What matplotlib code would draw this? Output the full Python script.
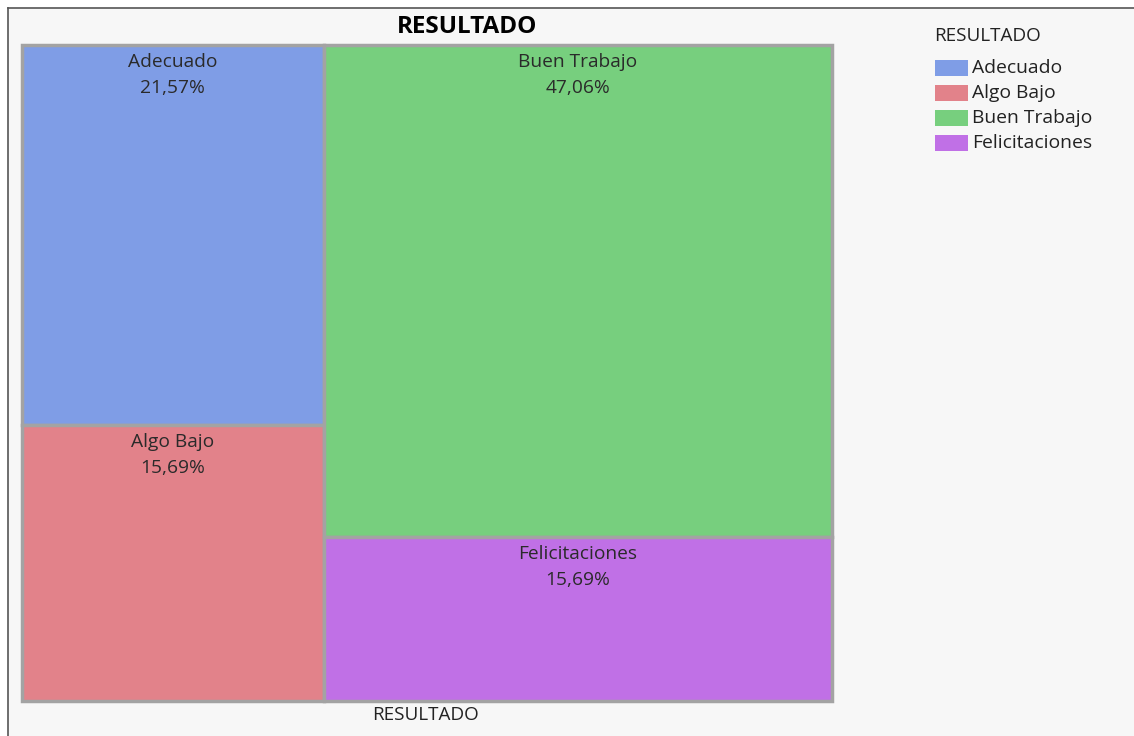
import matplotlib.pyplot as plt
from matplotlib.patches import Rectangle

plt.rcParams['font.family'] = ['Open Sans', 'Noto Sans', 'DejaVu Sans']

# datos del treemap
categorias = ['Adecuado', 'Algo Bajo', 'Buen Trabajo', 'Felicitaciones']
conteos = [11, 8, 24, 8]
colores = ['#7f9de6', '#e2828a', '#77cf7e', '#c070e6']
# columnas del treemap (indices de categorias)
columnas = [[0, 1], [2, 3]]

total = sum(conteos)

fig = plt.figure(figsize=(11.34, 7.36), dpi=100)
fig.patch.set_facecolor('white')

# marco gris claro con borde izquierdo/superior
fig.patches.append(Rectangle((8 / 1134, 0), 1.2, 1 - 8 / 736, transform=fig.transFigure,
                             facecolor='#f7f7f7', edgecolor='none', zorder=-5))
fig.lines.append(plt.Line2D([8 / 1134, 8 / 1134], [0, 1 - 8 / 736], transform=fig.transFigure,
                            color='#555555', linewidth=1.2, zorder=-4))
fig.lines.append(plt.Line2D([8 / 1134, 1], [1 - 8 / 736, 1 - 8 / 736], transform=fig.transFigure,
                            color='#555555', linewidth=1.2, zorder=-4))

ax = fig.add_axes([22 / 1134, 1 - 701 / 736, 810 / 1134, 656 / 736])
ax.set_zorder(2)
ax.set_xlim(0, 1)
ax.set_ylim(0, 1)
ax.axis('off')

x0 = 0.0
for col in columnas:
    suma_col = sum(conteos[i] for i in col)
    ancho = suma_col / total
    y_top = 1.0
    for i in col:
        alto = conteos[i] / suma_col
        ax.add_patch(Rectangle((x0, y_top - alto), ancho, alto, facecolor=colores[i],
                               edgecolor='#a3a3a3', linewidth=2.5, clip_on=False))
        pct = f'{100 * conteos[i] / total:.2f}'.replace('.', ',') + '%'
        ax.text(x0 + ancho / 2, y_top - 0.026, categorias[i], ha='center', va='center',
                fontsize=13.8, color='#2a2a2a')
        ax.text(x0 + ancho / 2, y_top - 0.066, pct, ha='center', va='center',
                fontsize=13.8, color='#2a2a2a')
        y_top -= alto
    x0 += ancho

fig.text(467 / 1134, 1 - 27 / 736, 'RESULTADO', ha='center', va='center',
         fontsize=17.5, fontweight='bold', color='black')
fig.text(425 / 1134, 1 - 715 / 736, 'RESULTADO', ha='center', va='center',
         fontsize=13.6, color='#222222')

# leyenda
fig.text(934 / 1134, 1 - 36 / 736, 'RESULTADO', ha='left', va='center',
         fontsize=13.6, color='#222222')
for k, (cat, c) in enumerate(zip(categorias, colores)):
    yc = 68 + 25 * k
    fig.patches.append(Rectangle((935 / 1134, 1 - (yc + 8) / 736), 33 / 1134, 16 / 736,
                                 transform=fig.transFigure, facecolor=c, edgecolor='none'))
    fig.text(972 / 1134, 1 - yc / 736, cat, ha='left', va='center', fontsize=13.9,
             color='#222222')

fig.savefig('out.png', dpi=100)
